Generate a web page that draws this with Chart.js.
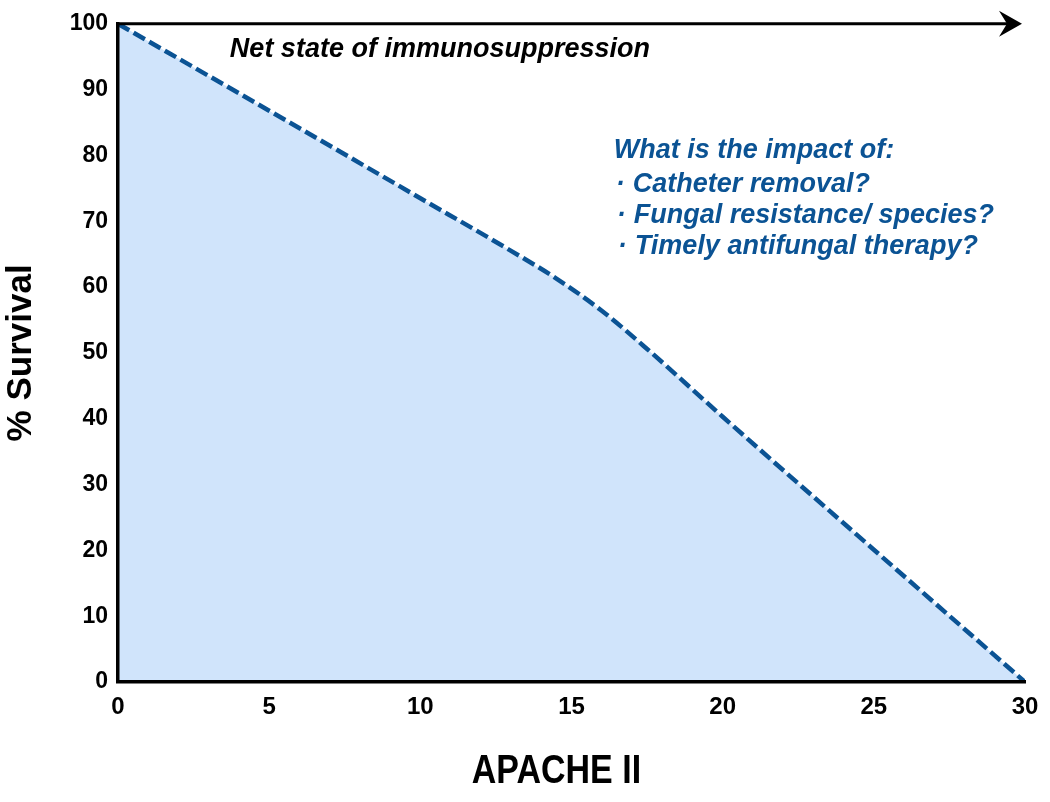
<!DOCTYPE html>
<html>
<head>
<meta charset="utf-8">
<script src="https://cdn.jsdelivr.net/npm/chart.js@4"></script>
<style>
  body { margin: 0; background: #fff; }
  #wrap { width: 1050px; height: 802px; position: relative; }
</style>
</head>
<body>
<div id="wrap"><canvas id="myChart"></canvas></div>
<script>
// values
const apacheScores = [0, 5, 10, 13, 14.5, 16, 17.5, 20, 25, 30];
const survivalPct = [100, 86.8, 73.5, 65.5, 61.3, 56.4, 50.6, 40.3, 20.1, 0];
const xTicks = [0, 5, 10, 15, 20, 25, 30];
const yTicks = [0, 10, 20, 30, 40, 50, 60, 70, 80, 90, 100];

const xTitle = 'APACHE II';
const arrowNote = 'Net state of immunosuppression';
const questionHead = 'What is the impact of:';
const questionItems = ['Catheter removal?', 'Fungal resistance/ species?', 'Timely antifungal therapy?'];

const FONT = '"Liberation Sans", Arial, Helvetica, sans-serif';
const BLUE = '#0b5394';

const notes = {
  id: 'notes',
  afterDraw(chart) {
    const { ctx, scales: { x, y } } = chart;
    ctx.save();

    // arrow along the top edge
    const y0 = y.getPixelForValue(100);
    const xs = x.getPixelForValue(0);
    const xe = x.getPixelForValue(29.9);
    ctx.strokeStyle = '#000';
    ctx.lineWidth = 3;
    ctx.beginPath();
    ctx.moveTo(xs - 1.5, y0);
    ctx.lineTo(xe - 6, y0);
    ctx.stroke();
    ctx.fillStyle = '#000';
    ctx.beginPath();
    ctx.moveTo(xe, y0);
    ctx.lineTo(xe - 23, y0 - 13);
    ctx.lineTo(xe - 15, y0);
    ctx.lineTo(xe - 23, y0 + 13);
    ctx.closePath();
    ctx.fill();

    ctx.textBaseline = 'middle';
    ctx.textAlign = 'left';
    ctx.font = `italic bold 27px ${FONT}`;
    ctx.fillText(arrowNote, x.getPixelForValue(3.7), y.getPixelForValue(96.1));

    ctx.fillStyle = BLUE;
    const left = x.getPixelForValue(16.4);
    const top = y.getPixelForValue(80.7);
    ctx.fillText(questionHead, left, top);
    questionItems.forEach((q, i) => {
      const yy = top + 34 + i * 31;
      ctx.fillText('·', left + 2 + i, yy);
      ctx.fillText(q, left + 19 + i, yy);
    });

    // x axis title, narrow and tall like the original
    ctx.fillStyle = '#000';
    ctx.textAlign = 'center';
    ctx.font = `bold 40px ${FONT}`;
    ctx.translate(x.getPixelForValue(14.5), 772);
    ctx.scale(0.85, 1);
    ctx.fillText(xTitle, 0, 0);
    ctx.restore();
  },
};

const ctx = document.getElementById('myChart');
// eslint-disable-next-line no-undef, no-new
new Chart(ctx, {
  type: 'line',
  data: {
    datasets: [{
      data: apacheScores.map((v, i) => ({ x: v, y: survivalPct[i] })),
      borderColor: BLUE,
      borderWidth: 4.5,
      borderDash: [13, 5],
      backgroundColor: '#d0e4fb',
      fill: 'origin',
      pointRadius: 0,
      cubicInterpolationMode: 'monotone',
    }],
  },
  options: {
    responsive: true,
    maintainAspectRatio: false,
    animation: false,
    layout: { padding: { top: 18, right: 25, left: 0, bottom: 0 } },
    plugins: { legend: { display: false }, tooltip: { enabled: false } },
    scales: {
      x: {
        type: 'linear',
        min: 0,
        max: 30,
        afterFit: (s) => { s.height = 120; },
        afterBuildTicks: (s) => { s.ticks = xTicks.map((v) => ({ value: v })); },
        grid: { display: false, drawTicks: false },
        border: { display: true, color: '#000', width: 3.5, z: 1 },
        ticks: { autoSkip: false, maxRotation: 0, padding: 11, color: '#000', font: { family: FONT, size: 24, weight: 'bold' } },
      },
      y: {
        min: 0,
        max: 100,
        afterFit: (s) => { s.width = 118; },
        afterBuildTicks: (s) => { s.ticks = yTicks.map((v) => ({ value: v })); },
        grid: { display: false, drawTicks: false },
        border: { display: true, color: '#000', width: 3.5, z: 1 },
        ticks: { autoSkip: false, padding: 10, color: '#000', font: { family: FONT, size: 23, weight: 'bold' } },
        title: { display: true, text: '% Survival', color: '#000', padding: { top: 0, bottom: 0 }, font: { family: FONT, size: 35, weight: 'bold' } },
      },
    },
  },
  plugins: [notes],
});
</script>
</body>
</html>
